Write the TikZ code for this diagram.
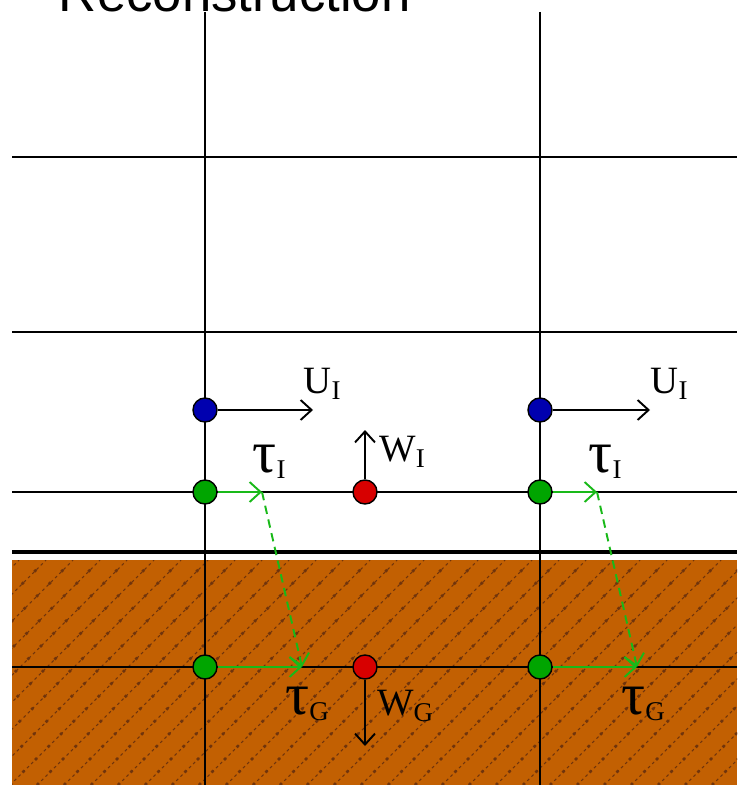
\documentclass[tikz,border=0pt]{standalone}
\usepackage{fontspec}
\setmainfont{Liberation Serif}
\newfontfamily\titlefont{Liberation Sans}
\usetikzlibrary{arrows.meta,positioning}
\definecolor{soil}{RGB}{194,96,2}
\definecolor{soildark}{RGB}{112,52,12}
\definecolor{ptblue}{RGB}{0,0,175}
\definecolor{ptgreen}{RGB}{0,165,0}
\definecolor{ptred}{RGB}{215,0,0}
\definecolor{flux}{RGB}{25,185,25}
\newcommand{\taus}{{\fontsize{17}{17}\selectfont τ}}

\begin{document}
\begin{tikzpicture}[x=0.1mm, y=-0.1mm, line width=0.55pt,
    gridline/.style={black, line width=0.6pt},
    pt/.style={circle, draw=black, line width=0.4pt, inner sep=0pt, minimum size=2.4mm},
    vel/.style={black, -{Straight Barb[length=1.1mm, width=2mm]}},
    fluxarrow/.style={flux, -{Straight Barb[length=1.1mm, width=2mm]}},
    lab/.style={font=\fontsize{11}{12}\selectfont, inner sep=0pt}]
  \useasboundingbox (0,0) rectangle (737,785);
  \clip (0,0) rectangle (737,785);

  % soil with hatching
  \fill[soil] (12,560) rectangle (737,785);
  \begin{scope}
    \clip (12,560) rectangle (737,785);
    \foreach \x in {-260,-233,...,740} {
      \draw[soildark, line width=0.3pt, dash pattern=on 0.8pt off 0.9pt] (\x,785) -- ++(225,-225);
      \draw[soildark, line width=0.75pt, dash pattern=on 0.75pt off 4.3pt] (\x,785) -- ++(225,-225);
    }
  \end{scope}

  % grid
  \foreach \y in {157,332,492,667}
    \draw[gridline] (12,\y) -- (737,\y);
  \foreach \x in {205,540}
    \draw[gridline] (\x,12) -- (\x,785);
  \draw[black, line width=1.4pt] (12,552) -- (737,552);

  \node[anchor=base west, inner sep=0pt, font=\titlefont\fontsize{15}{18}\selectfont] (title) at (58,12) {Reconstruction};

  % points
  \node[pt, fill=ptblue] (uL) at (205,410) {};
  \node[pt, fill=ptblue] (uR) at (540,410) {};
  \node[pt, fill=ptgreen] (tiL) at (205,492) {};
  \node[pt, fill=ptgreen] (tiR) at (540,492) {};
  \node[pt, fill=ptred] (wI) at (365,492) {};
  \node[pt, fill=ptgreen] (tgL) at (205,667) {};
  \node[pt, fill=ptgreen] (tgR) at (540,667) {};
  \node[pt, fill=ptred] (wG) at (365,667) {};

  % arrow ends
  \coordinate (uLend) at (313,410);
  \coordinate (uRend) at (650,410);
  \coordinate (tiLend) at (262,492);
  \coordinate (tiRend) at (597,492);
  \coordinate (tgLend) at (302,667);
  \coordinate (tgRend) at (637,667);
  \coordinate (wIend) at (365,430);
  \coordinate (wGend) at (365,746);

  \draw[vel] (uL) -- (uLend);
  \draw[vel] (uR) -- (uRend);
  \draw[vel] (wI) -- (wIend);
  \draw[vel] (wG) -- (wGend);
  \draw[fluxarrow] (tiL) -- (tiLend);
  \draw[fluxarrow] (tiR) -- (tiRend);
  \draw[fluxarrow] (tgL) -- (tgLend);
  \draw[fluxarrow] (tgR) -- (tgRend);
  \draw[fluxarrow, dash pattern=on 2.4pt off 1.6pt] (tiLend) -- (tgLend);
  \draw[fluxarrow, dash pattern=on 2.4pt off 1.6pt] (tiRend) -- (tgRend);

  % labels
  \node[lab] (uLlab) at (323,384) {U\textsubscript{I}};
  \node[lab] (uRlab) at (670,384) {U\textsubscript{I}};
  \node[lab] (tiLlab) at (270,462) {\taus\textsubscript{I}};
  \node[lab] (tiRlab) at (606,462) {\taus\textsubscript{I}};
  \node[lab] (wIlab) at (403,452) {W\textsubscript{I}};
  \node[lab] (tgLlab) at (308,704) {\taus\textsubscript{G}};
  \node[lab] (tgRlab) at (644,704) {\taus\textsubscript{G}};
  \node[lab] (wGlab) at (406,706) {W\textsubscript{G}};
\end{tikzpicture}
\end{document}
